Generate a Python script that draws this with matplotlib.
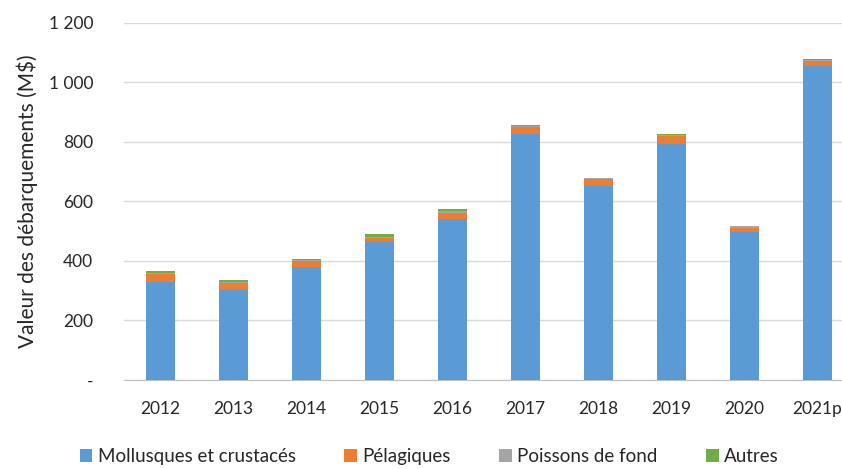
import numpy as np
import matplotlib
matplotlib.use("Agg")
import matplotlib.pyplot as plt
from matplotlib.ticker import FuncFormatter

plt.rcParams['font.family'] = ['Lato', 'DejaVu Sans']

years = ['2012', '2013', '2014', '2015', '2016', '2017', '2018', '2019', '2020', '2021p']
mollusques = [330, 302, 381, 464, 540, 826, 652, 792, 498, 1056]
pelagiques = [27, 23, 19, 12, 22, 25, 23, 29, 14, 16]
poissons_fond = [3, 5, 2, 6, 6, 4, 4, 4, 6, 5]
autres = [5, 6, 5, 8, 6, 1, 1, 1, 1, 1]

series = [
    ('Mollusques et crustacés', mollusques, '#5B9BD5'),
    ('Pélagiques', pelagiques, '#ED7D31'),
    ('Poissons de fond', poissons_fond, '#A5A5A5'),
    ('Autres', autres, '#70AD47'),
]

fig = plt.figure(figsize=(8.42, 4.69), dpi=100)
ax = fig.add_axes([0.147, 0.19, 0.867, 0.761])

x = np.arange(len(years))
bottom = np.zeros(len(years))
for name, vals, col in series:
    ax.bar(x, vals, width=0.4, bottom=bottom, color=col, label=name, zorder=3)
    bottom += np.array(vals)

ax.set_ylim(0, 1200)
ax.set_yticks(range(0, 1201, 200))

def fmt(v, pos):
    if v == 0:
        return '-'
    return '{:,}'.format(int(v)).replace(',', ' ')

ax.yaxis.set_major_formatter(FuncFormatter(fmt))
ax.set_xticks(x)
ax.set_xticklabels(years)
ax.set_xlim(-0.5, len(years) - 0.5)

ax.grid(axis='y', color='#D9D9D9', linewidth=1, zorder=0)
for s in ['top', 'right', 'left']:
    ax.spines[s].set_visible(False)
ax.spines['bottom'].set_color('#BFBFBF')
ax.tick_params(axis='both', length=0, labelsize=12.5, colors='#262626')
ax.tick_params(axis='y', pad=22)
ax.tick_params(axis='x', pad=15)

ax.set_ylabel('Valeur des débarquements (M\\$)', fontsize=15, color='#262626', labelpad=8)

fig.legend(loc='lower center', bbox_to_anchor=(0.51, -0.028), ncol=4, frameon=False,
           fontsize=13.5, handlelength=0.65, handleheight=0.65, handletextpad=0.3,
           columnspacing=2.6, labelcolor='#262626')

fig.savefig('out.png', dpi=100)
